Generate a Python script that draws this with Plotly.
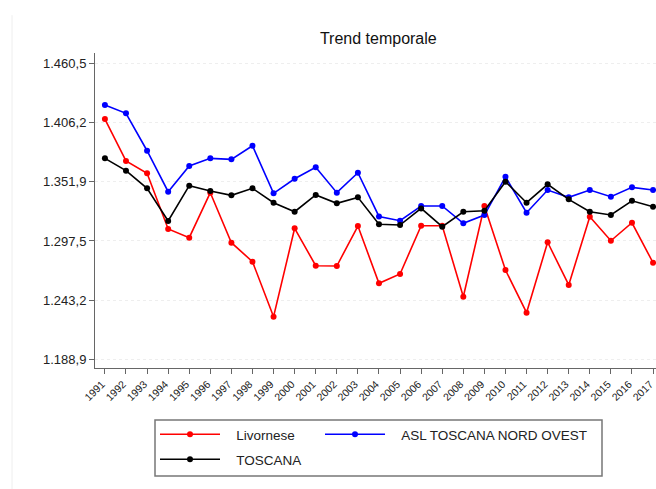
import plotly.graph_objects as go

years = list(range(1991, 2018))

livornese = [1409.4, 1370.9, 1359.6, 1308.5, 1300.5, 1341.8, 1295.9, 1278.5, 1228.0,
             1309.1, 1274.8, 1274.5, 1311.2, 1258.6, 1267.2, 1311.5, 1311.5, 1246.3,
             1329.6, 1270.8, 1231.7, 1296.3, 1257.1, 1319.7, 1297.7, 1314.2, 1277.5]
asl_nord_ovest = [1422.2, 1414.6, 1380.3, 1342.7, 1366.3, 1373.3, 1372.4, 1384.9, 1341.2,
                  1354.6, 1365.1, 1341.8, 1360.1, 1320.0, 1316.1, 1329.6, 1329.6, 1313.7,
                  1321.3, 1356.4, 1323.4, 1344.2, 1337.5, 1344.2, 1338.1, 1346.7, 1344.2]
toscana = [1373.3, 1362.0, 1345.8, 1315.8, 1348.2, 1343.3, 1339.4, 1345.8, 1332.6,
           1324.3, 1339.7, 1332.0, 1337.5, 1312.8, 1312.1, 1327.4, 1310.6, 1324.3,
           1325.2, 1351.9, 1332.6, 1349.5, 1335.7, 1324.3, 1321.3, 1334.4, 1328.9]

ytick_vals = [1188.9, 1243.2, 1297.5, 1351.9, 1406.2, 1460.5]
ytick_text = ["1.188,9", "1.243,2", "1.297,5", "1.351,9", "1.406,2", "1.460,5"]

# name, values, colour, legend slot
series = [("Livornese", livornese, "#ff0000", "legend"),
          ("ASL TOSCANA NORD OVEST", asl_nord_ovest, "#0000ff", "legend3"),
          ("TOSCANA", toscana, "#000000", "legend2")]

W, H = 656, 489

fig = go.Figure()
for name, vals, col, leg in series:
    fig.add_trace(go.Scatter(x=years, y=vals, name="\u00a0\u00a0\u00a0" + name,
                             mode="lines+markers", legend=leg,
                             line=dict(color=col, width=1.6),
                             marker=dict(color=col, size=6)))

def leg_box(px, py):
    return dict(orientation="h", xref="container", yref="container",
                x=px / W, y=1 - py / H, xanchor="left", yanchor="top",
                borderwidth=0, bgcolor="rgba(0,0,0,0)", itemwidth=60,
                font=dict(size=13.5, color="#222222"))

fig.update_layout(
    width=W, height=H,
    margin=dict(l=95, r=0, t=53, b=121, autoexpand=False),
    paper_bgcolor="white", plot_bgcolor="white",
    font=dict(family="Liberation Sans, Arial", size=11, color="#222222"),
    title=dict(text="Trend temporale", x=0.505, xref="paper", y=1 - 38 / H,
               yanchor="middle", font=dict(size=16, color="#111111")),
    showlegend=True,
    legend=leg_box(155, 419),
    legend3=leg_box(320, 419),
    legend2=leg_box(155, 444),
)
fig.update_xaxes(range=[1990.53, 2017.14], tickmode="array", tickvals=years,
                 ticktext=[str(y) for y in years], tickangle=-45, automargin=False,
                 ticklabeloverflow="allow", ticklabelshift=-3,
                 showline=True, linecolor="#666666", linewidth=1,
                 ticks="outside", ticklen=5, tickcolor="#666666",
                 showgrid=False, zeroline=False, tickfont=dict(size=10.5))
fig.update_yaxes(range=[1180.9, 1470.0], tickmode="array", tickvals=ytick_vals,
                 ticktext=ytick_text, automargin=False,
                 showline=True, linecolor="#666666", linewidth=1,
                 ticks="outside", ticklen=5, tickcolor="#666666",
                 showgrid=True, gridcolor="#eeeeee", griddash="dot", zeroline=False,
                 tickfont=dict(size=13))

# legend frame
fig.add_shape(type="rect", xref="paper", yref="paper",
              x0=60 / 561, x1=507 / 561, y0=-108 / 315, y1=-52 / 315,
              line=dict(color="#777777", width=1.5))
# faint frame line at the left of the page
fig.add_shape(type="line", xref="paper", yref="paper",
              x0=-83 / 561, x1=-83 / 561, y0=-121 / 315, y1=1.12,
              line=dict(color="#eeeeee", width=1))

# drop the default page margin so the figure fills the window exactly
fig.write_html("out.html", config={"displayModeBar": False},
               post_script="document.body.style.margin='0';"
                           "document.body.style.overflow='hidden';")
